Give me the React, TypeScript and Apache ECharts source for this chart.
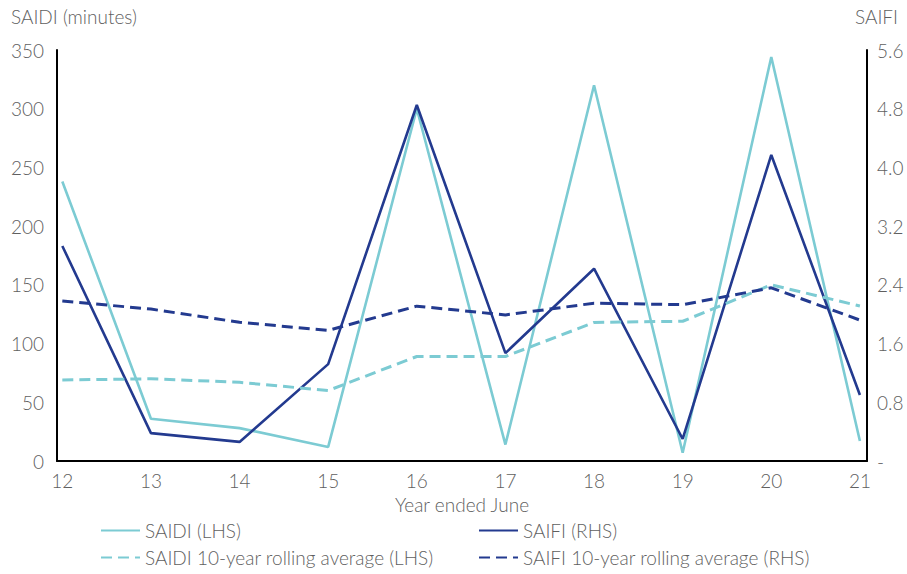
import React, { useEffect, useRef } from "react";
import * as echarts from "echarts";

// Year ended June (two-digit years)
const years = [12, 13, 14, 15, 16, 17, 18, 19, 20, 21];

// SAIDI: minutes (left axis)
const saidi = [238, 36, 28, 12, 300, 14, 320, 7, 344, 17];
const saidiAvg = [69, 70, 67, 60, 89, 89, 118, 119, 150, 132];

// SAIFI: interruptions (right axis)
const saifi = [2.93, 0.38, 0.26, 1.32, 4.85, 1.47, 2.62, 0.3, 4.17, 0.9];
const saifiAvg = [2.18, 2.07, 1.89, 1.78, 2.11, 1.99, 2.15, 2.13, 2.36, 1.92];

const LIGHT = "#7ccbd3";
const DARK = "#233a8f";
const TEXT = "#5f5f5f";
const FONT = "Lato, 'Open Sans', sans-serif";
const WEIGHT = 300;

const pairs = (vals: number[]) => years.map((y, i) => [y, vals[i]]);

export default function App() {
  const ref = useRef<HTMLDivElement>(null);

  useEffect(() => {
    if (!ref.current) return;
    const chart = echarts.init(ref.current, undefined, { renderer: "svg" });

    const lineSeries = (
      name: string,
      data: number[],
      color: string,
      yAxisIndex: number,
      dashed: boolean
    ) => ({
      name,
      type: "line",
      yAxisIndex,
      data: pairs(data),
      symbol: "none",
      smooth: false,
      lineStyle: {
        color,
        width: dashed ? 3 : 2.6,
        type: dashed ? [11, 6] : "solid",
      },
      itemStyle: { color },
    });

    // one legend box per entry, laid out as two columns of two rows
    const legendItem = (name: string, left: number, top: number) => ({
      orient: "horizontal",
      left,
      top,
      itemWidth: 39,
      itemHeight: 14,
      itemStyle: { opacity: 0 },
      textStyle: { color: TEXT, fontSize: 19, fontFamily: FONT, fontWeight: WEIGHT },
      data: [name],
    });

    chart.setOption({
      animation: false,
      backgroundColor: "#ffffff",
      textStyle: { fontFamily: FONT },
      grid: { left: 57, right: 40, top: 50, bottom: 113, containLabel: false },
      graphic: [
        {
          type: "text",
          left: 11,
          top: 7,
          style: { text: "SAIDI (minutes)", fill: TEXT, fontSize: 19, fontFamily: FONT, fontWeight: WEIGHT },
        },
        {
          type: "text",
          right: 9,
          top: 7,
          style: { text: "SAIFI", fill: TEXT, fontSize: 19, fontFamily: FONT, fontWeight: WEIGHT },
        },
      ],
      legend: [
        legendItem("SAIDI (LHS)", 95, 516),
        legendItem("SAIDI 10-year rolling average (LHS)", 95, 543),
        legendItem("SAIFI (RHS)", 473, 516),
        legendItem("SAIFI 10-year rolling average (RHS)", 473, 543),
      ],
      xAxis: {
        type: "value",
        min: 11.94,
        max: 21.08,
        name: "Year ended June",
        nameLocation: "middle",
        nameGap: 34,
        nameTextStyle: { color: TEXT, fontSize: 19, fontFamily: FONT, fontWeight: WEIGHT },
        axisLine: { show: true, onZero: false, lineStyle: { color: "#000", width: 2 } },
        axisTick: { show: false },
        splitLine: { show: false },
        axisLabel: {
          customValues: years,
          color: TEXT,
          fontSize: 19,
          fontFamily: FONT,
          fontWeight: WEIGHT,
          margin: 10,
          formatter: (v: number) => String(Math.round(v)),
        },
      },
      yAxis: [
        {
          type: "value",
          min: 0,
          max: 350,
          interval: 50,
          position: "left",
          axisLine: { show: true, lineStyle: { color: "#000", width: 2 } },
          axisTick: { show: false },
          splitLine: { show: false },
          axisLabel: { color: TEXT, fontSize: 19, fontFamily: FONT, fontWeight: WEIGHT, margin: 13 },
        },
        {
          type: "value",
          min: 0,
          max: 5.6,
          interval: 0.8,
          position: "right",
          axisLine: { show: true, lineStyle: { color: "#000", width: 2 } },
          axisTick: { show: false },
          splitLine: { show: false },
          axisLabel: {
            color: TEXT,
            fontSize: 19,
            fontFamily: FONT,
            fontWeight: WEIGHT,
            margin: 10,
            formatter: (v: number) => (v === 0 ? "-" : v.toFixed(1)),
          },
        },
      ],
      series: [
        lineSeries("SAIDI (LHS)", saidi, LIGHT, 0, false),
        lineSeries("SAIFI (RHS)", saifi, DARK, 1, false),
        lineSeries("SAIDI 10-year rolling average (LHS)", saidiAvg, LIGHT, 0, true),
        lineSeries("SAIFI 10-year rolling average (RHS)", saifiAvg, DARK, 1, true),
      ],
    });

    return () => chart.dispose();
  }, []);

  return <div ref={ref} style={{ width: 907, height: 574, position: "absolute", left: 0, top: 0 }} />;
}
